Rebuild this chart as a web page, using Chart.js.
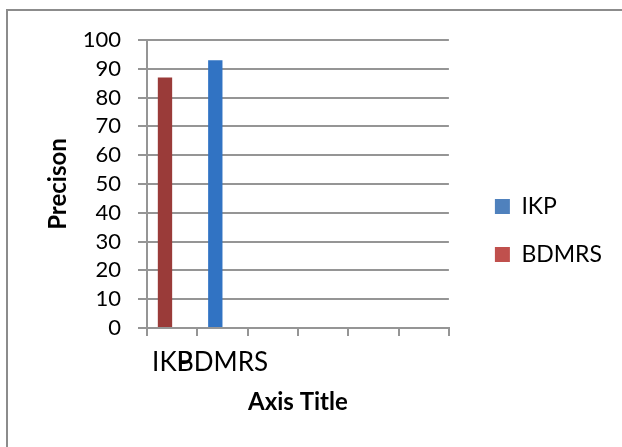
<!DOCTYPE html>
<html>
<head>
<meta charset="utf-8">
<script src="https://cdn.jsdelivr.net/npm/chart.js@4"></script>
<style>
    body { margin: 0; overflow: hidden; background: #fff; }
    #frame { position: absolute; left: 6px; top: 9px; width: 700px; height: 500px; border: 2px solid #8c8c8c; }
    #wrap { position: absolute; left: 0; top: 0; width: 622px; height: 447px; }
</style>
</head>
<body>
<div id="frame"></div>
<div id="wrap"><canvas id="precisionChart" width="622" height="447"></canvas></div>
<script>
// категории по оси X (в оригинале 6 слотов, подписаны только первые два)
const categories = ['IKP', 'BDMRS', '', '', '', ''];
const ikpValues = [null, 93, null, null, null, null];
const bdmrsValues = [87, null, null, null, null, null];
const yTicks = [0, 10, 20, 30, 40, 50, 60, 70, 80, 90, 100];

const fontName = 'Lato, "Open Sans", sans-serif';
const gridColor = '#959595';

const ctx = document.getElementById('precisionChart');
const precisionChart = new Chart(ctx, {
    type: 'bar',
    data: {
        labels: categories,
        datasets: [
            {
                label: 'IKP',
                data: ikpValues,
                backgroundColor: '#3173c3',
                legendColor: '#4f81bd',
                stack: 'left'
            },
            {
                label: 'BDMRS',
                data: bdmrsValues,
                backgroundColor: '#9a3b39',
                legendColor: '#c0504d',
                stack: 'left'
            },
            {
                // пустая серия, чтобы столбцы стояли в левой половине категории, как в Excel
                label: '',
                data: [],
                stack: 'right'
            }
        ]
    },
    options: {
        responsive: false,
        animation: false,
        categoryPercentage: 0.57,
        barPercentage: 1.0,
        layout: { padding: { top: 40, bottom: 26, left: 0, right: 10 } },
        plugins: {
            tooltip: { enabled: false },
            legend: {
                position: 'right',
                maxWidth: 200,
                labels: {
                    boxWidth: 15,
                    boxHeight: 15,
                    padding: 25,
                    color: '#000',
                    font: { family: fontName, size: 23 },
                    filter: item => item.text !== '',
                    generateLabels: chart => chart.data.datasets.map((ds, i) => ({
                        text: ds.label,
                        fillStyle: ds.legendColor,
                        strokeStyle: ds.legendColor,
                        lineWidth: 0,
                        datasetIndex: i
                    }))
                }
            }
        },
        scales: {
            x: {
                grid: {
                    display: true,
                    drawOnChartArea: false,
                    drawTicks: true,
                    tickLength: 8,
                    offset: true,
                    color: gridColor,
                    lineWidth: 2
                },
                border: { color: gridColor, width: 2 },
                ticks: {
                    autoSkip: false,
                    maxRotation: 0,
                    padding: 11,
                    color: '#000',
                    font: { family: fontName, size: 26 }
                },
                title: {
                    display: true,
                    text: 'Axis Title',
                    color: '#000',
                    font: { family: fontName, size: 24, weight: 'bold' },
                    padding: { top: 0, bottom: 4 }
                },
                afterFit: scale => { scale.height = 93; }
            },
            y: {
                min: 0,
                max: 100,
                afterBuildTicks: scale => { scale.ticks = yTicks.map(v => ({ value: v })); },
                grid: {
                    color: gridColor,
                    lineWidth: 2,
                    tickLength: 9
                },
                border: { color: gridColor, width: 2 },
                ticks: {
                    autoSkip: false,
                    padding: 17,
                    color: '#000',
                    font: { family: fontName, size: 22 }
                },
                title: {
                    display: true,
                    text: 'Precison',
                    color: '#000',
                    font: { family: fontName, size: 24, weight: 'bold' },
                    padding: { top: 44, bottom: 0 }
                },
                afterFit: scale => { scale.width = 147; }
            },
            gap: {
                // пустая ось справа — отступ между графиком и легендой
                position: 'right',
                display: true,
                grid: { display: false },
                border: { display: false },
                ticks: { display: false },
                afterFit: scale => { scale.width = 21; }
            }
        }
    }
});
</script>
</body>
</html>
